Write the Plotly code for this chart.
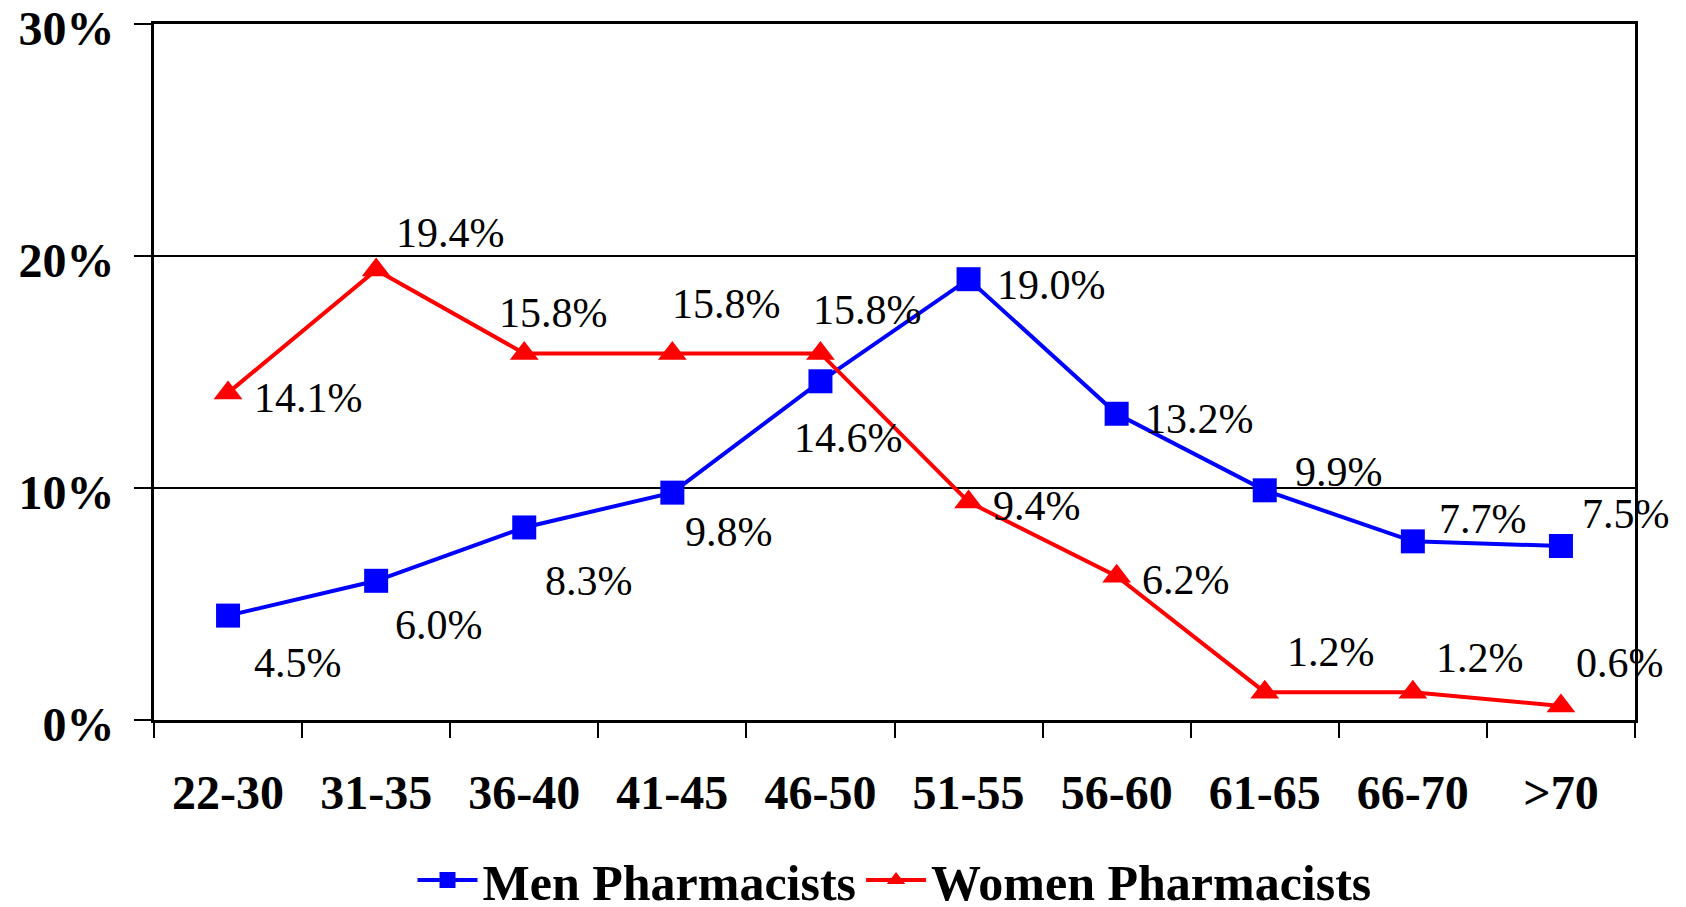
import plotly.graph_objects as go

categories = ["22-30", "31-35", "36-40", "41-45", "46-50", "51-55", "56-60", "61-65", "66-70", ">70"]
men_values = [4.5, 6.0, 8.3, 9.8, 14.6, 19.0, 13.2, 9.9, 7.7, 7.5]
women_values = [14.1, 19.4, 15.8, 15.8, 15.8, 9.4, 6.2, 1.2, 1.2, 0.6]
y_ticks = [0, 10, 20, 30]
y_tick_labels = ["0%", "10%", "20%", "30%"]

# label offsets in pixels (dx right, dy down)
men_label_offsets = [(70, 47), (63, 44), (65, 54), (57, 39), (28, 57), (83, 6), (83, 5), (74, -18), (70, -22), (65, -32)]
women_label_offsets = [(80, 5), (74, -37), (29, -40), (54, -49), (47, -43), (68, 4), (69, 4), (66, -40), (67, -34), (59, -43)]

SERIF = "Liberation Serif, Times New Roman, serif"

fig = go.Figure()
fig.add_trace(go.Scatter(
    x=categories, y=men_values, mode="lines+markers", name="Men Pharmacists",
    line=dict(color="#0000FF", width=4),
    marker=dict(symbol="square", size=24, color="#0000FF"),
    cliponaxis=False,
))
fig.add_trace(go.Scatter(
    x=categories, y=women_values, mode="lines+markers", name="Women Pharmacists",
    line=dict(color="#FF0000", width=4),
    marker=dict(symbol="triangle-up", size=25, color="#FF0000"),
    cliponaxis=False,
))

annotations = []
for vals, offs in ((men_values, men_label_offsets), (women_values, women_label_offsets)):
    for c, v, (dx, dy) in zip(categories, vals, offs):
        annotations.append(dict(
            x=c, y=v, xref="x", yref="y", text=f"{v:.1f}%", showarrow=False,
            xshift=dx, yshift=-dy, xanchor="center", yanchor="middle",
            font=dict(family=SERIF, size=42, color="black"),
        ))

fig.update_layout(
    width=1686, height=907,
    margin=dict(l=154, r=51, t=24, b=187, autoexpand=False),
    plot_bgcolor="white", paper_bgcolor="white",
    showlegend=True,
    legend=dict(
        orientation="h", x=0.5, xanchor="center",
        y=-(880 - 720) / 696, yanchor="middle",
        font=dict(family=SERIF, size=50, color="black", weight="bold"),
        itemwidth=60, tracegroupgap=0,
    ),
    annotations=annotations,
)
fig.update_xaxes(
    type="category", range=[-0.5, 9.5], autorange=False,
    tickson="boundaries", ticks="outside", ticklen=15, tickwidth=2,
    tickcolor="black", showline=True, linecolor="black", linewidth=3, mirror=True,
    showgrid=False, ticklabelstandoff=28, automargin=False,
    tickfont=dict(family=SERIF, size=48, color="black", weight="bold"),
)
fig.update_yaxes(
    range=[0, 30], autorange=False, tickvals=y_ticks, ticktext=y_tick_labels,
    ticks="outside", ticklen=17, tickwidth=2, tickcolor="black",
    showline=True, linecolor="black", linewidth=3, mirror=True,
    showgrid=True, gridcolor="black", gridwidth=2, zeroline=False,
    ticklabelstandoff=10, ticklabelshift=4, automargin=False, ticklabeloverflow="allow",
    tickfont=dict(family=SERIF, size=48, color="black", weight="bold"),
)

fig.write_html(
    "out.html",
    config={"displayModeBar": False},
    post_script="document.body.style.margin='0';document.body.style.overflow='hidden';",
)
